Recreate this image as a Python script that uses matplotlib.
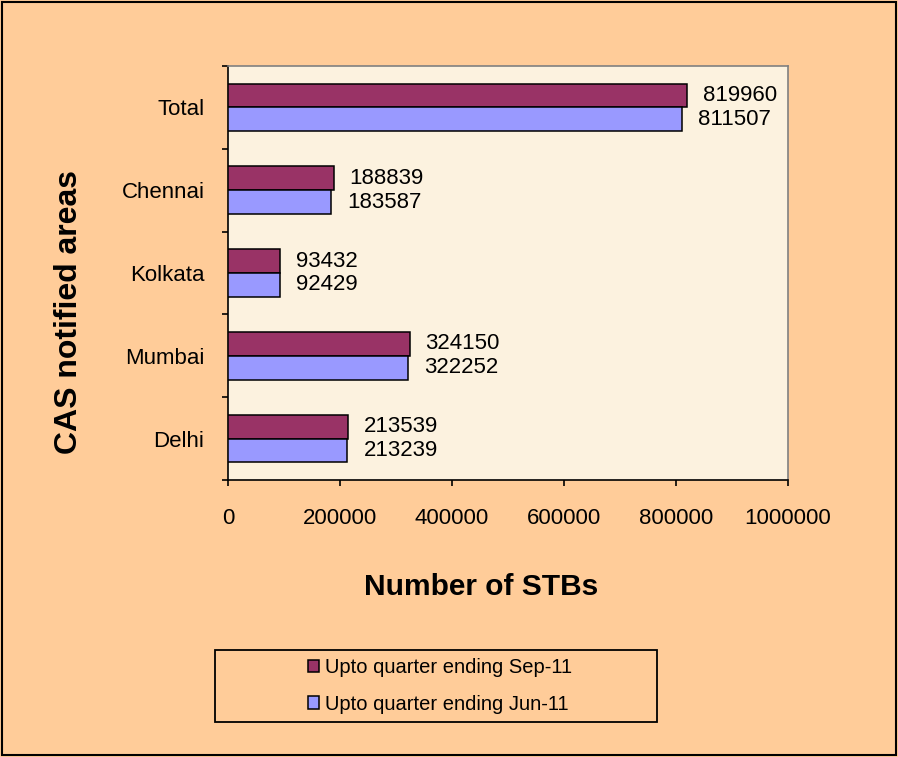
import matplotlib
matplotlib.use('Agg')
import matplotlib.pyplot as plt
import matplotlib.patches as patches
import numpy as np

plt.rcParams['font.family'] = ['Liberation Sans', 'DejaVu Sans']

areas = ['Delhi', 'Mumbai', 'Kolkata', 'Chennai', 'Total']
sep11 = [213539, 324150, 93432, 188839, 819960]
jun11 = [213239, 322252, 92429, 183587, 811507]
series_names = ['Upto quarter ending Sep-11', 'Upto quarter ending Jun-11']
xticks = [0, 200000, 400000, 600000, 800000, 1000000]

fondo = '#FFCC99'
granate = '#993366'
lila = '#9999FF'

fig = plt.figure(figsize=(8.98, 7.57), dpi=100, facecolor=fondo)
ax = fig.add_axes([228 / 898, 277 / 757, 560 / 898, 414 / 757])
ax.set_facecolor('#FCF2DF')

y = np.arange(len(areas))
h = 0.287
b1 = ax.barh(y + h / 2, sep11, height=h, color=granate, edgecolor='black', linewidth=1.1, zorder=3)
b2 = ax.barh(y - h / 2, jun11, height=h, color=lila, edgecolor='black', linewidth=1.1, zorder=3)

for barras, vals in ((b1, sep11), (b2, jun11)):
    for r, v in zip(barras, vals):
        ax.annotate(str(v), (v, r.get_y() + r.get_height() / 2), xytext=(11.5, 0),
                    textcoords='offset points', ha='left', va='center', fontsize=16)

ax.set_xlim(0, 1000000)
ax.set_ylim(-0.5, len(areas) - 0.5)
ax.set_xticks(xticks)
ax.set_xticklabels([str(t) for t in xticks], fontsize=16)
ax.tick_params(axis='x', direction='out', length=4.5, width=1.2, pad=16)

# marcas en los bordes de cada categoría, etiquetas en el centro
ax.set_yticks(np.arange(-0.5, len(areas), 1.0))
ax.set_yticklabels([])
ax.set_yticks(y, minor=True)
ax.set_yticklabels(areas, minor=True, fontsize=16)
ax.tick_params(axis='y', which='major', direction='out', length=4.5, width=1.2)
ax.tick_params(axis='y', which='minor', length=0, pad=17)

for s in ('left', 'bottom'):
    ax.spines[s].set_color('black')
    ax.spines[s].set_linewidth(1.2)
for s in ('top', 'right'):
    ax.spines[s].set_color('#808080')
    ax.spines[s].set_linewidth(1.2)

fig.text(481 / 898, 1 - 587 / 757, 'Number of STBs', ha='center', va='center',
         fontsize=21.5, fontweight='bold')
fig.text(69 / 898, 1 - 312 / 757, 'CAS notified areas', ha='center', va='center',
         rotation=90, fontsize=23, fontweight='bold')

# caja de la leyenda
fig.patches.append(patches.Rectangle((215 / 898, 35 / 757), 442 / 898, 72 / 757,
                                     transform=fig.transFigure, fill=False,
                                     edgecolor='black', linewidth=1.3))
fig.legend([b1, b2], series_names, loc='center', bbox_to_anchor=(440 / 898, 1 - 686 / 757),
           frameon=False, fontsize=14.5, handlelength=0.55, handleheight=0.55,
           handletextpad=0.3, labelspacing=0.85, borderpad=0)

# marco exterior
fig.patches.append(patches.Rectangle((0.002, 0.002), 0.996, 0.996, transform=fig.transFigure,
                                     fill=False, edgecolor='black', linewidth=1.5))

fig.savefig('out.png', dpi=100, facecolor=fondo)
